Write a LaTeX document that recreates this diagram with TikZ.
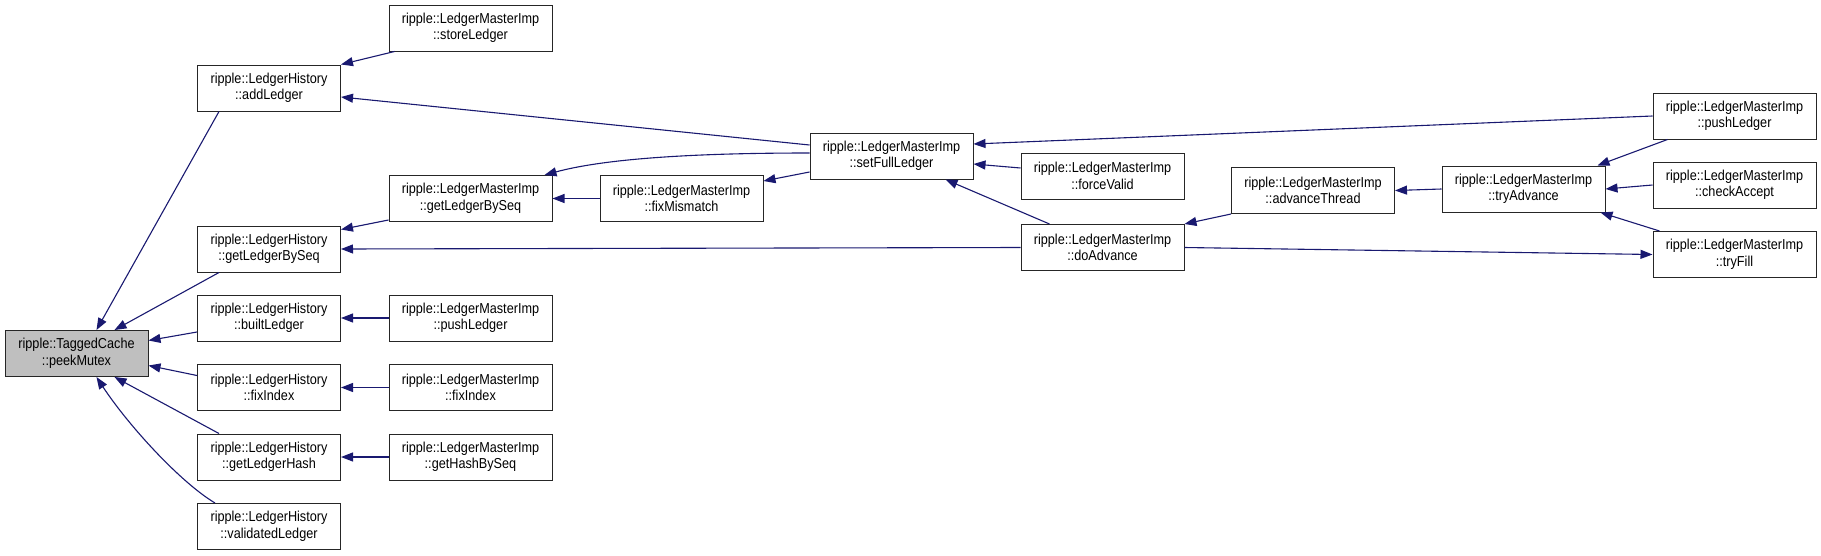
\documentclass[tikz,border=0pt]{standalone}
\usepackage{fontspec}
\setmainfont{Liberation Sans}[FakeStretch=0.88]
\usetikzlibrary{arrows.meta}
\definecolor{midnight}{RGB}{25,25,112}

\begin{document}
\begin{tikzpicture}[x=1pt, y=-1pt, >={Triangle[length=12pt,width=9pt]},
    box/.style={draw=black!85, line width=1pt, fill=white, align=center, inner sep=0pt,
      minimum height=46pt, font=\fontsize{14.4}{16.5}\selectfont},
    hist/.style={box, minimum width=143pt},
    mimp/.style={box, minimum width=163pt},
    edge/.style={->, draw=midnight, line width=1.1pt}]
    \useasboundingbox (0,0) rectangle (1821,555);

    % the function itself
    \node[hist, fill=black!25] (peekMutex) at (76.5,353.5) {ripple::TaggedCache\\::peekMutex};

    % callers in LedgerHistory
    \node[hist] (addLedger) at (269,88) {ripple::LedgerHistory\\::addLedger};
    \node[hist] (lhLedgerBySeq) at (269,249) {ripple::LedgerHistory\\::getLedgerBySeq};
    \node[hist] (builtLedger) at (269,318) {ripple::LedgerHistory\\::builtLedger};
    \node[hist] (lhFixIndex) at (269,387.5) {ripple::LedgerHistory\\::fixIndex};
    \node[hist] (getLedgerHash) at (269,457) {ripple::LedgerHistory\\::getLedgerHash};
    \node[hist] (validatedLedger) at (269,526.5) {ripple::LedgerHistory\\::validatedLedger};

    % callers in LedgerMasterImp
    \node[mimp] (storeLedger) at (470.5,28) {ripple::LedgerMasterImp\\::storeLedger};
    \node[mimp] (miLedgerBySeq) at (470.5,198.5) {ripple::LedgerMasterImp\\::getLedgerBySeq};
    \node[mimp] (miPushLedger) at (470.5,318) {ripple::LedgerMasterImp\\::pushLedger};
    \node[mimp] (miFixIndex) at (470.5,387.5) {ripple::LedgerMasterImp\\::fixIndex};
    \node[mimp] (getHashBySeq) at (470.5,457) {ripple::LedgerMasterImp\\::getHashBySeq};
    \node[mimp] (fixMismatch) at (681.5,198.5) {ripple::LedgerMasterImp\\::fixMismatch};
    \node[mimp] (setFullLedger) at (891.5,156) {ripple::LedgerMasterImp\\::setFullLedger};
    \node[mimp] (forceValid) at (1102.5,176) {ripple::LedgerMasterImp\\::forceValid};
    \node[mimp] (doAdvance) at (1102.5,247.5) {ripple::LedgerMasterImp\\::doAdvance};
    \node[mimp] (advanceThread) at (1313,190.5) {ripple::LedgerMasterImp\\::advanceThread};
    \node[mimp] (tryAdvance) at (1523.5,189) {ripple::LedgerMasterImp\\::tryAdvance};
    \node[mimp] (pushLedger) at (1734.5,116) {ripple::LedgerMasterImp\\::pushLedger};
    \node[mimp] (checkAccept) at (1734.5,185) {ripple::LedgerMasterImp\\::checkAccept};
    \node[mimp] (tryFill) at (1734.5,254.5) {ripple::LedgerMasterImp\\::tryFill};

    % into peekMutex
    \draw[edge] ([xshift=22pt]addLedger.south west) -- ([xshift=20pt]peekMutex.north);
    \draw[edge] ([xshift=22pt]lhLedgerBySeq.south west) -- ([xshift=38pt]peekMutex.north);
    \draw[edge] ([yshift=-14pt]builtLedger.west) -- ([yshift=13pt]peekMutex.east);
    \draw[edge] ([yshift=12pt]lhFixIndex.west) -- ([yshift=-12pt]peekMutex.east);
    \draw[edge] ([xshift=22pt]getLedgerHash.north west) -- ([xshift=38pt]peekMutex.south);
    \draw[edge] ([xshift=18pt]validatedLedger.north west) .. controls (180,482) and (128,425) .. ([xshift=20pt]peekMutex.south);

    % into the LedgerHistory column
    \draw[edge] ([xshift=6pt]storeLedger.south west) -- (addLedger.north east);
    \draw[edge] ([yshift=11pt]setFullLedger.west) -- ([yshift=-9pt]addLedger.east);
    \draw[edge] ([yshift=2pt]miLedgerBySeq.south west) -- ([yshift=-4pt]lhLedgerBySeq.north east);
    \draw[edge] (doAdvance.west) -- (lhLedgerBySeq.east);
    \draw[edge] (miPushLedger.west) -- (builtLedger.east);
    \draw[edge] (miFixIndex.west) -- (lhFixIndex.east);
    \draw[edge] (getHashBySeq.west) -- (getLedgerHash.east);

    % between LedgerMasterImp members
    \draw[edge] ([yshift=3pt]setFullLedger.west) .. controls (680,153) and (600,160) .. ([xshift=-8pt]miLedgerBySeq.north east);
    \draw[edge] (fixMismatch.west) -- (miLedgerBySeq.east);
    \draw[edge] ([yshift=-16pt]setFullLedger.west) -- ([yshift=-6pt]fixMismatch.north east);
    \draw[edge] (pushLedger.west) -- ([yshift=12pt]setFullLedger.east);
    \draw[edge] ([yshift=8pt]forceValid.west) -- ([yshift=-8pt]setFullLedger.east);
    \draw[edge] ([xshift=29pt]doAdvance.north west) -- ([xshift=-28pt]setFullLedger.south east);
    \draw[edge] (advanceThread.south west) -- (doAdvance.north east);
    \draw[edge] (tryAdvance.west) -- (advanceThread.east);
    \draw[edge] ([xshift=15pt]pushLedger.south west) -- ([xshift=-8pt]tryAdvance.north east);
    \draw[edge] (checkAccept.west) -- (tryAdvance.east);
    \draw[edge] ([xshift=7pt]tryFill.north west) -- ([xshift=-5pt]tryAdvance.south east);
    \draw[edge] (doAdvance.east) -- (tryFill.west);

\end{tikzpicture}
\end{document}
